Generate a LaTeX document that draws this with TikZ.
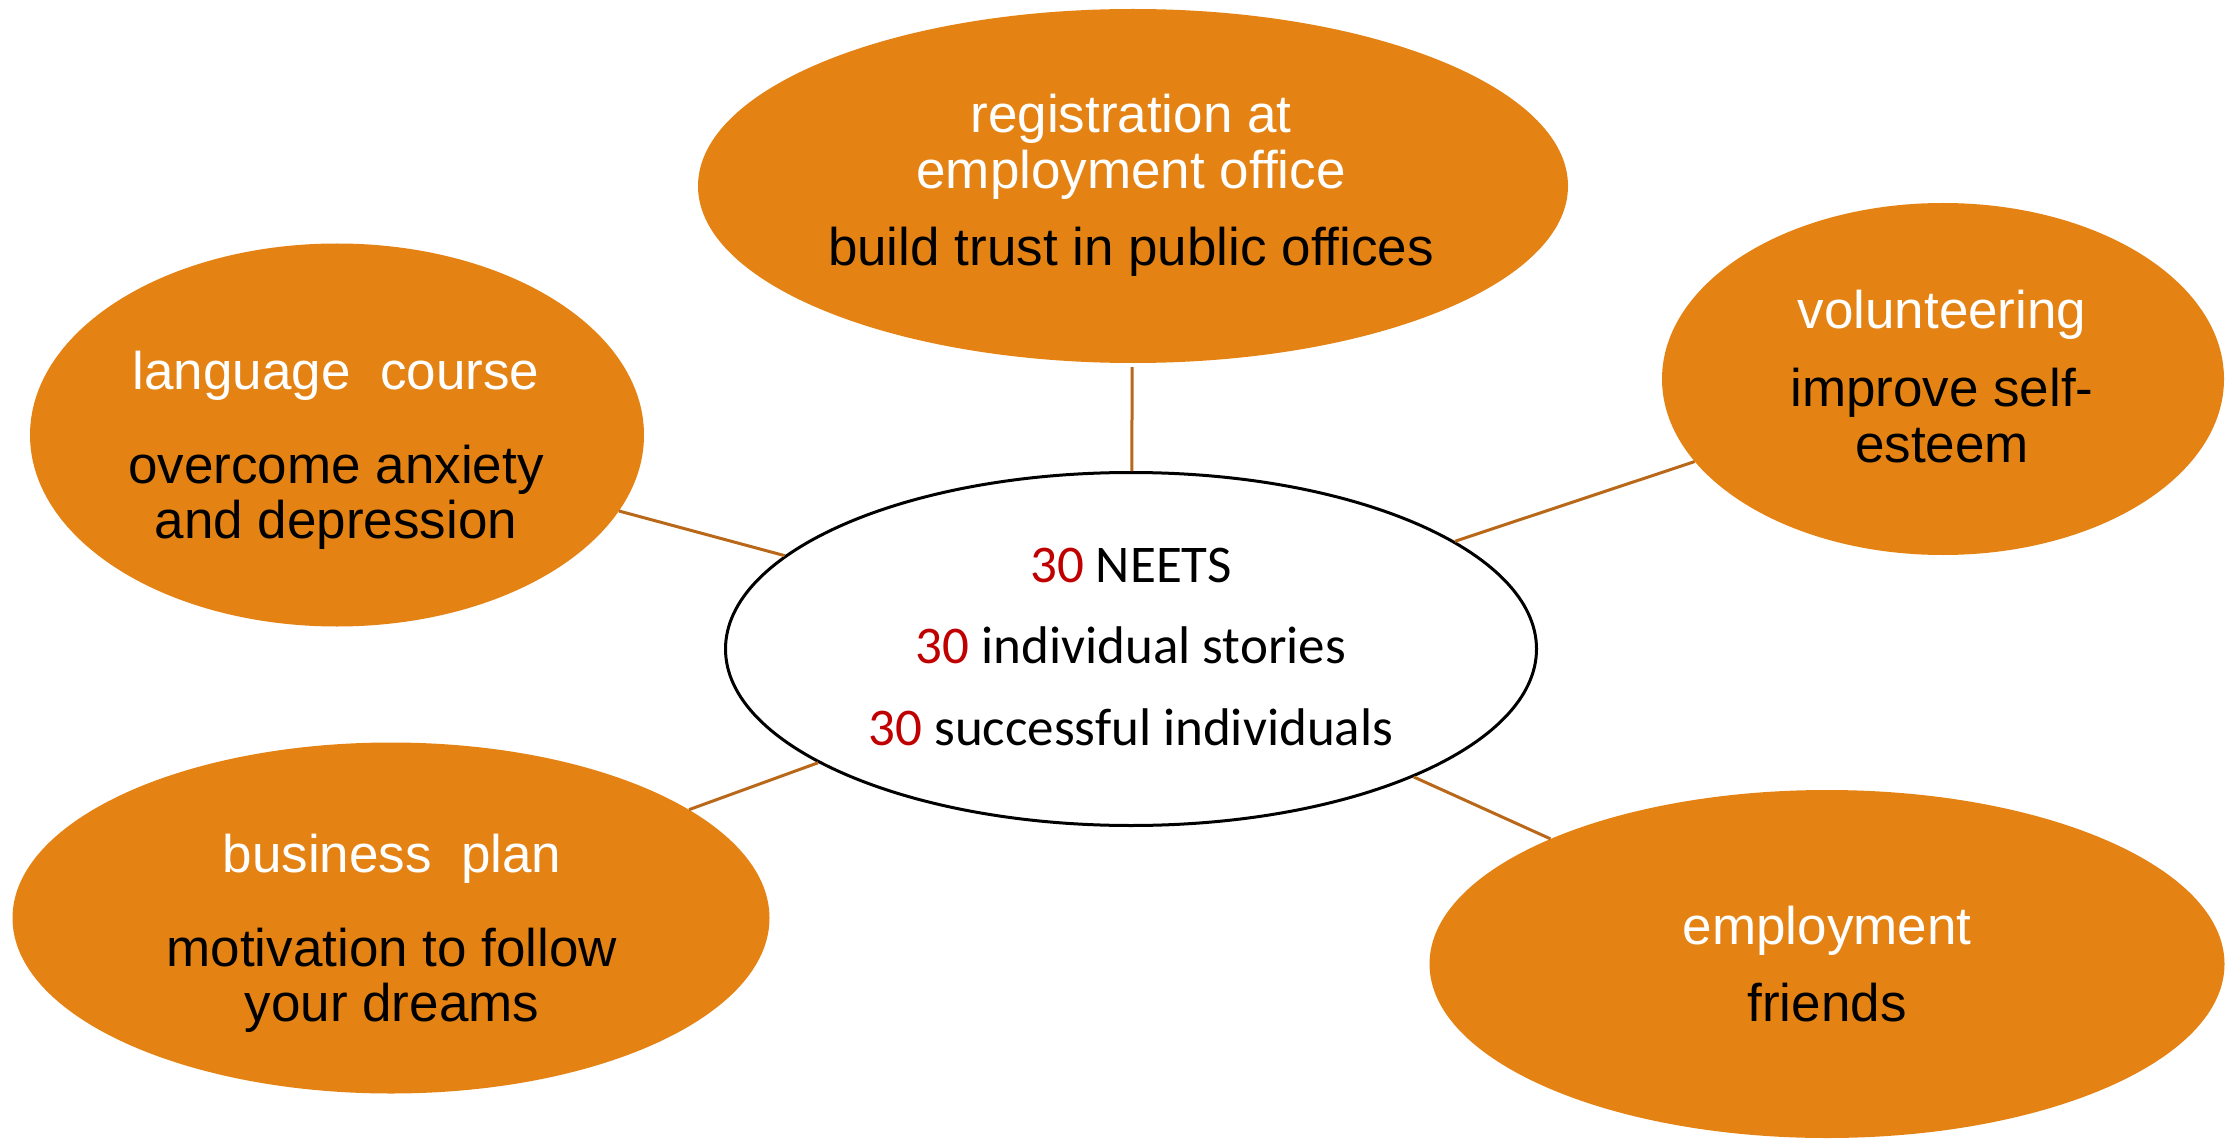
\documentclass[tikz,border=0pt]{standalone}
\usepackage{fontspec}
\setmainfont{Liberation Sans}
\newfontfamily\calibrifont{Carlito}
\usetikzlibrary{shapes.geometric}
\definecolor{bubblec}{RGB}{228,131,20}
\definecolor{linkc}{RGB}{184,104,24}
\definecolor{numred}{RGB}{192,0,0}
\tikzset{
 bubble/.style={ellipse, fill=bubblec, draw=none, inner sep=0pt},
 hub/.style={ellipse, fill=white, draw=black, line width=3pt, inner sep=0pt},
 link/.style={draw=linkc, line width=3pt},
 wtxt/.style={anchor=base, inner sep=0pt, text=white, font=\fontsize{53}{60}\selectfont},
 btxt/.style={anchor=base, inner sep=0pt, text=black, font=\fontsize{53}{60}\selectfont},
 ctxt/.style={anchor=base, inner sep=0pt, text=black, font=\calibrifont\fontsize{53}{60}\selectfont},
}
\begin{document}
\begin{tikzpicture}[x=1pt,y=-1pt]
\useasboundingbox (0,0) rectangle (2229,1139);
% bubbles
\node[bubble, minimum width=870pt, minimum height=354pt] (top) at (1133,186) {};
\node[bubble, minimum width=614pt, minimum height=383pt] (lang) at (337,435) {};
\node[bubble, minimum width=562pt, minimum height=352pt] (vol) at (1943,379) {};
\node[bubble, minimum width=757pt, minimum height=351pt] (bus) at (391,918) {};
\node[bubble, minimum width=795pt, minimum height=348pt] (emp) at (1827,964) {};
\node[hub, minimum width=811pt, minimum height=353pt] (hub) at (1131,649) {};
% connectors
\draw[link, shorten <=4pt] (top) -- (hub);
\draw[link] (lang) -- (hub);
\draw[link] (vol) -- (hub);
\draw[link] (bus) -- (hub);
\draw[link] (emp) -- (hub);
% top texts
\node[wtxt] (t1) at (1131,133) {registration at};
\node[wtxt] (t2) at (1131,189) {employment office};
\node[btxt] (t3) at (1131,266) {build trust in public offices};
% language
\node[wtxt] (l1) at (336,389) {language\ \ course};
\node[btxt] (l2) at (336,483) {overcome anxiety};
\node[btxt] (l3) at (336,538) {and depression};
% volunteering
\node[wtxt] (v1) at (1942,329) {volunteering};
\node[btxt] (v2) at (1942,406) {improve self-};
\node[btxt] (v3) at (1942,462) {esteem};
% business
\node[wtxt] (b1) at (392,872) {business\ \ plan};
\node[btxt] (b2) at (392,966) {motivation to follow};
\node[btxt] (b3) at (392,1021) {your dreams};
% employment
\node[wtxt] (e1) at (1827,944) {employment};
\node[btxt] (e2) at (1827,1021) {friends};
% hub texts
\node[ctxt] (h1) at (1131,582) {\textcolor{numred}{30} NEETS};
\node[ctxt] (h2) at (1131,663) {\textcolor{numred}{30} individual stories};
\node[ctxt] (h3) at (1131,745) {\textcolor{numred}{30} successful individuals};
\end{tikzpicture}
\end{document}
